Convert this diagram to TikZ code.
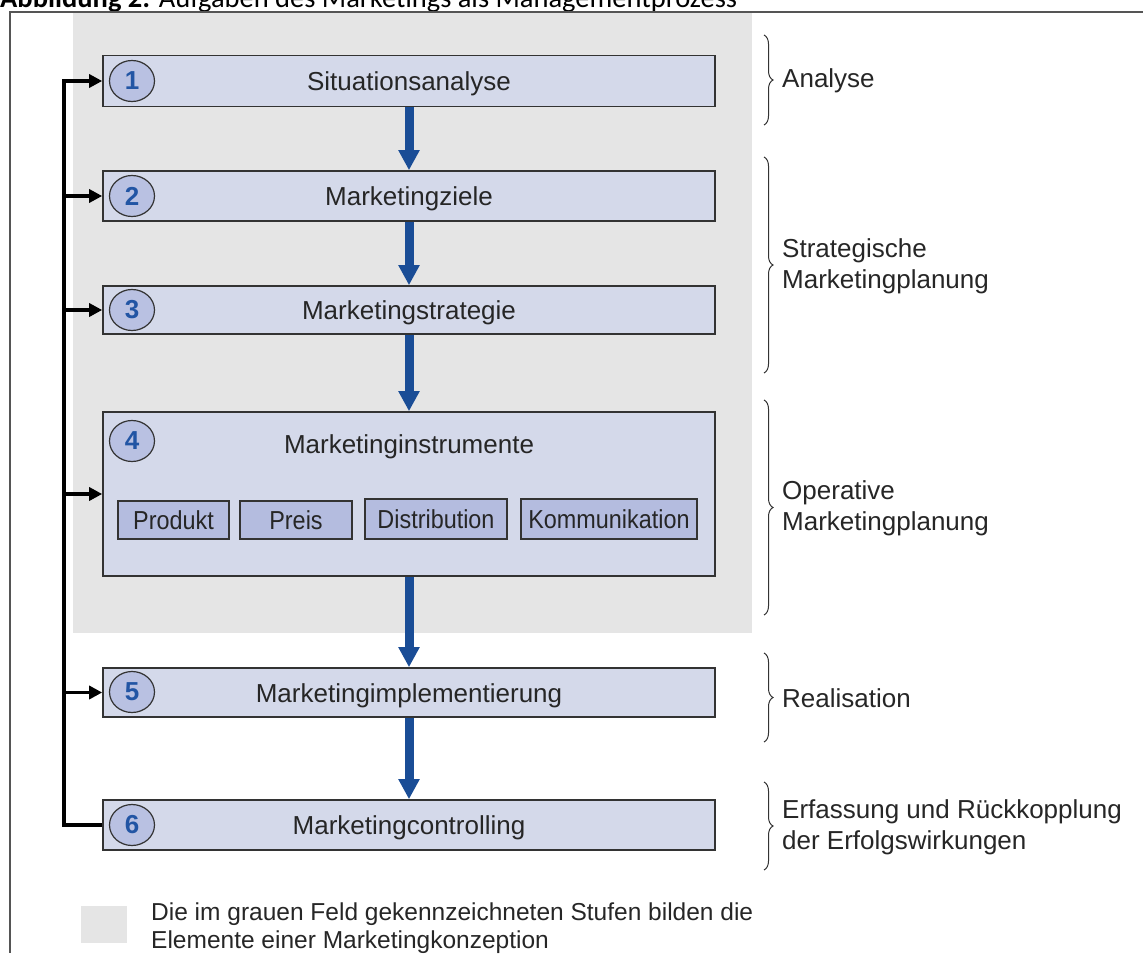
\documentclass[tikz,border=0pt]{standalone}
\usepackage{fontspec}
\setmainfont{Liberation Sans}
\newfontfamily\narrowfont{Liberation Sans}[FakeStretch=0.9]
\newfontfamily\captionfont{Carlito}
\usetikzlibrary{arrows.meta,shapes.geometric,decorations.pathreplacing}

\definecolor{grayfield}{HTML}{E5E5E5}
\definecolor{boxfill}{HTML}{D4D9EA}
\definecolor{subfill}{HTML}{B4BCDF}
\definecolor{numfill}{HTML}{B9C1E2}
\definecolor{numblue}{HTML}{2255A4}
\definecolor{flowblue}{HTML}{1A4D96}
\definecolor{boxline}{HTML}{333333}
\definecolor{framecol}{HTML}{555555}

\begin{document}
\begin{tikzpicture}[x=1pt, y=-1pt,
            stage/.style={draw=boxline, fill=boxfill, line width=1.6pt, minimum width=612pt, inner sep=0pt, text height=19pt, text depth=0pt, text=black!85, font=\fontsize{26}{30}\selectfont},
            num/.style={ellipse, draw=boxline, fill=numfill, line width=1.2pt, minimum width=45pt, minimum height=41pt, inner sep=0pt, text=numblue, font=\fontsize{26}{26}\selectfont\bfseries},
            tool/.style={draw=boxline, fill=subfill, line width=1.6pt, inner sep=0pt, text height=19pt, text depth=0pt, text=black!85, font=\narrowfont\fontsize{26}{30}\selectfont},
            flow/.style={line width=9pt, flowblue, -{Triangle[width=20pt,length=20pt]}},
            back/.style={line width=3.5pt, black, -{Triangle[width=13pt,length=13pt]}},
            phase/.style={decorate, decoration={brace, amplitude=9pt}, draw=boxline, line width=1pt},
            phasetext/.style={anchor=west, align=left, inner sep=0pt, text=black!85, font=\fontsize{26}{31}\selectfont}]
            \useasboundingbox (0,0) rectangle (1143,953);

            \node [anchor=base west, inner sep=0pt, font=\captionfont\fontsize{28.5}{30}\selectfont] (caption) at (0,7) {\textbf{Abbildung 2:} Aufgaben des Marketings als Managementprozess};
            \draw [line width=1.5pt, framecol] (1143,12) -- (10,12) -- (10,953);

            \fill [grayfield] (73,13) rectangle (752,633);

            \node [stage, minimum height=51pt] (s1) at (409,81) {Situationsanalyse};
            \node [stage, minimum height=50pt] (s2) at (409,196) {Marketingziele};
            \node [stage, minimum height=48pt] (s3) at (409,310) {Marketingstrategie};
            \node [stage, minimum height=164pt] (s4) at (409,494) {};
            \node [stage, minimum height=49pt] (s5) at (409,692.5) {Marketingimplementierung};
            \node [stage, minimum height=50pt] (s6) at (409,825) {Marketingcontrolling};

            \node [inner sep=0pt, text height=19pt, text depth=0pt, font=\fontsize{26}{30}\selectfont, text=black!85] (s4title) at (409,444) {Marketinginstrumente};
            \node [tool, minimum width=111pt, minimum height=38pt] (produkt) at (173.5,520) {Produkt};
            \node [tool, minimum width=112pt, minimum height=38pt] (preis) at (296,520) {Preis};
            \node [tool, minimum width=142pt, minimum height=40pt] (distribution) at (436,519) {Distribution};
            \node [tool, minimum width=176pt, minimum height=40pt] (kommunikation) at (609,519) {Kommunikation};

            \node [num] (n1) at (132,81) {1};
            \node [num] (n2) at (132,196) {2};
            \node [num] (n3) at (132,310) {3};
            \node [num] (n4) at (132,441) {4};
            \node [num] (n5) at (132,692) {5};
            \node [num] (n6) at (132,825) {6};

            \draw [flow] (s1.south) -- (s2.north);
            \draw [flow] (s2.south) -- (s3.north);
            \draw [flow] (s3.south) -- (s4.north);
            \draw [flow] (s4.south) -- (s5.north);
            \draw [flow] (s5.south) -- (s6.north);

            \coordinate (fbtop) at (64,81);
            \coordinate (fbbot) at (64,825);
            \draw [back] (s6.west) -- (fbbot) -- (fbtop) -- (s1.west);
            \foreach \k in {2,3,4,5}
                \draw [back] (fbtop |- s\k.west) -- (s\k.west);

            \draw [phase] (764,35) -- (764,125);
            \draw [phase] (764,157) -- (764,373);
            \draw [phase] (764,400) -- (764,615);
            \draw [phase] (764,653) -- (764,742);
            \draw [phase] (764,782) -- (764,870);

            \node [phasetext] (analyse) at (782,81) {Analyse};
            \node [phasetext] (strategisch) at (782,266) {Strategische\\Marketingplanung};
            \node [phasetext] (operativ) at (782,508) {Operative\\Marketingplanung};
            \node [phasetext] (realisation) at (782,698) {Realisation};
            \node [phasetext] (erfassung) at (782,827) {Erfassung und Rückkopplung\\der Erfolgswirkungen};

            \node [fill=grayfield, minimum width=46pt, minimum height=37pt, inner sep=0pt] (key) at (104,924.5) {};
            \node [anchor=west, align=left, inner sep=0pt, text=black!85, font=\fontsize{24.5}{28}\selectfont] (keytext) at (151,928) {Die im grauen Feld gekennzeichneten Stufen bilden die\\Elemente einer Marketingkonzeption};
        \end{tikzpicture}
\end{document}
